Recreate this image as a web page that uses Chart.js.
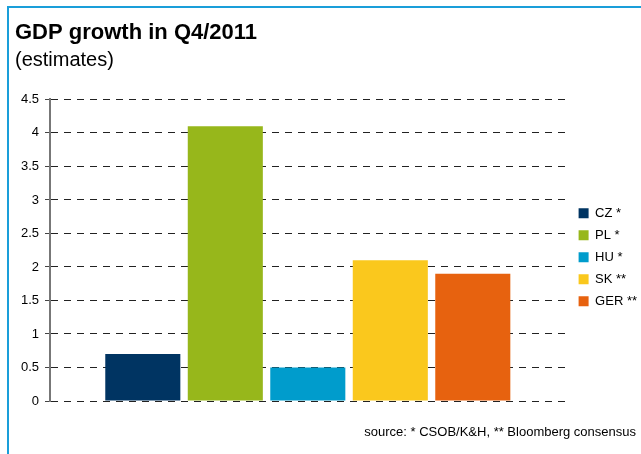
<!DOCTYPE html>
<html>
<head>
<meta charset="utf-8">
<script src="https://cdn.jsdelivr.net/npm/chart.js@4"></script>
<style>
  body { margin: 0; background: #fff; font-family: "Liberation Sans", Arial, sans-serif; }
  #wrap { position: relative; width: 641px; height: 454px; overflow: hidden; }
  #frame { position: absolute; left: 7px; top: 6px; width: 700px; height: 500px;
           border-top: 2px solid #1a9ed9; border-left: 2px solid #1a9ed9; }
  #myChart { position: absolute; left: 0; top: 0; }
  #source { position: absolute; right: 5px; top: 424px; font-size: 13px; color: #000; }
</style>
</head>
<body>
<div id="wrap">
  <div id="frame"></div>
  <canvas id="myChart" width="641" height="454"></canvas>
  <div id="source">source: * CSOB/K&amp;H, ** Bloomberg consensus</div>
</div>
<script>
// values
var countries = ["CZ *", "PL *", "HU *", "SK **", "GER **"];
var growth = [0.7, 4.1, 0.5, 2.1, 1.9];
var barColors = ["#003462", "#97b71b", "#009ccc", "#fac81d", "#e7620f"];
var yMin = 0, yMax = 4.5, yStep = 0.5;

var fontFamily = '"Liberation Sans", Arial, sans-serif';

var datasets = countries.map(function (c, i) {
  return {
    label: c,
    data: [growth[i]],
    backgroundColor: barColors[i],
    borderWidth: 0,
    categoryPercentage: 0.8,
    barPercentage: 0.91,
  };
});

// nudge the legend a bit right/down, like in the original
var legendShift = {
  id: "legendShift",
  afterLayout: function (chart) {
    var lg = chart.legend;
    lg.left += 4; lg.right += 4;
    lg.top += 7; lg.bottom += 7;
  },
};

var ctx = document.getElementById("myChart").getContext("2d");
var gdpChart = new Chart(ctx, {
  type: "bar",
  data: {
    labels: [""],
    datasets: datasets,
  },
  plugins: [legendShift],
  options: {
    responsive: false,
    animation: false,
    layout: { padding: { left: 15, right: -2, top: 14, bottom: 45 } },
    plugins: {
      title: {
        display: true,
        text: "GDP growth in Q4/2011",
        align: "start",
        color: "#000",
        font: { family: fontFamily, size: 22, weight: "bold" },
        padding: { top: 6, bottom: 2 },
      },
      subtitle: {
        display: true,
        text: "(estimates)",
        align: "start",
        color: "#000",
        font: { family: fontFamily, size: 20 },
        padding: { top: 0, bottom: 27 },
      },
      legend: {
        position: "right",
        fullSize: false,
        labels: {
          color: "#000",
          font: { family: fontFamily, size: 13 },
          boxWidth: 10,
          boxHeight: 10,
          padding: 9,
        },
      },
      tooltip: { enabled: false },
    },
    scales: {
      x: {
        ticks: { display: false },
        grid: { display: false },
        border: { display: false },
      },
      y: {
        min: yMin,
        max: yMax,
        ticks: {
          stepSize: yStep,
          color: "#000",
          font: { family: fontFamily, size: 13 },
          padding: 6,
          callback: function (v) { return String(v); },
        },
        grid: {
          color: "#222",
          tickBorderDash: [],
          tickColor: "#444",
          tickLength: 5,
        },
        border: { display: true, color: "#777", width: 2, dash: [7, 6] },
        afterFit: function (scale) {
          scale.width = 35;
        },
      },
    },
  },
});
</script>
</body>
</html>
